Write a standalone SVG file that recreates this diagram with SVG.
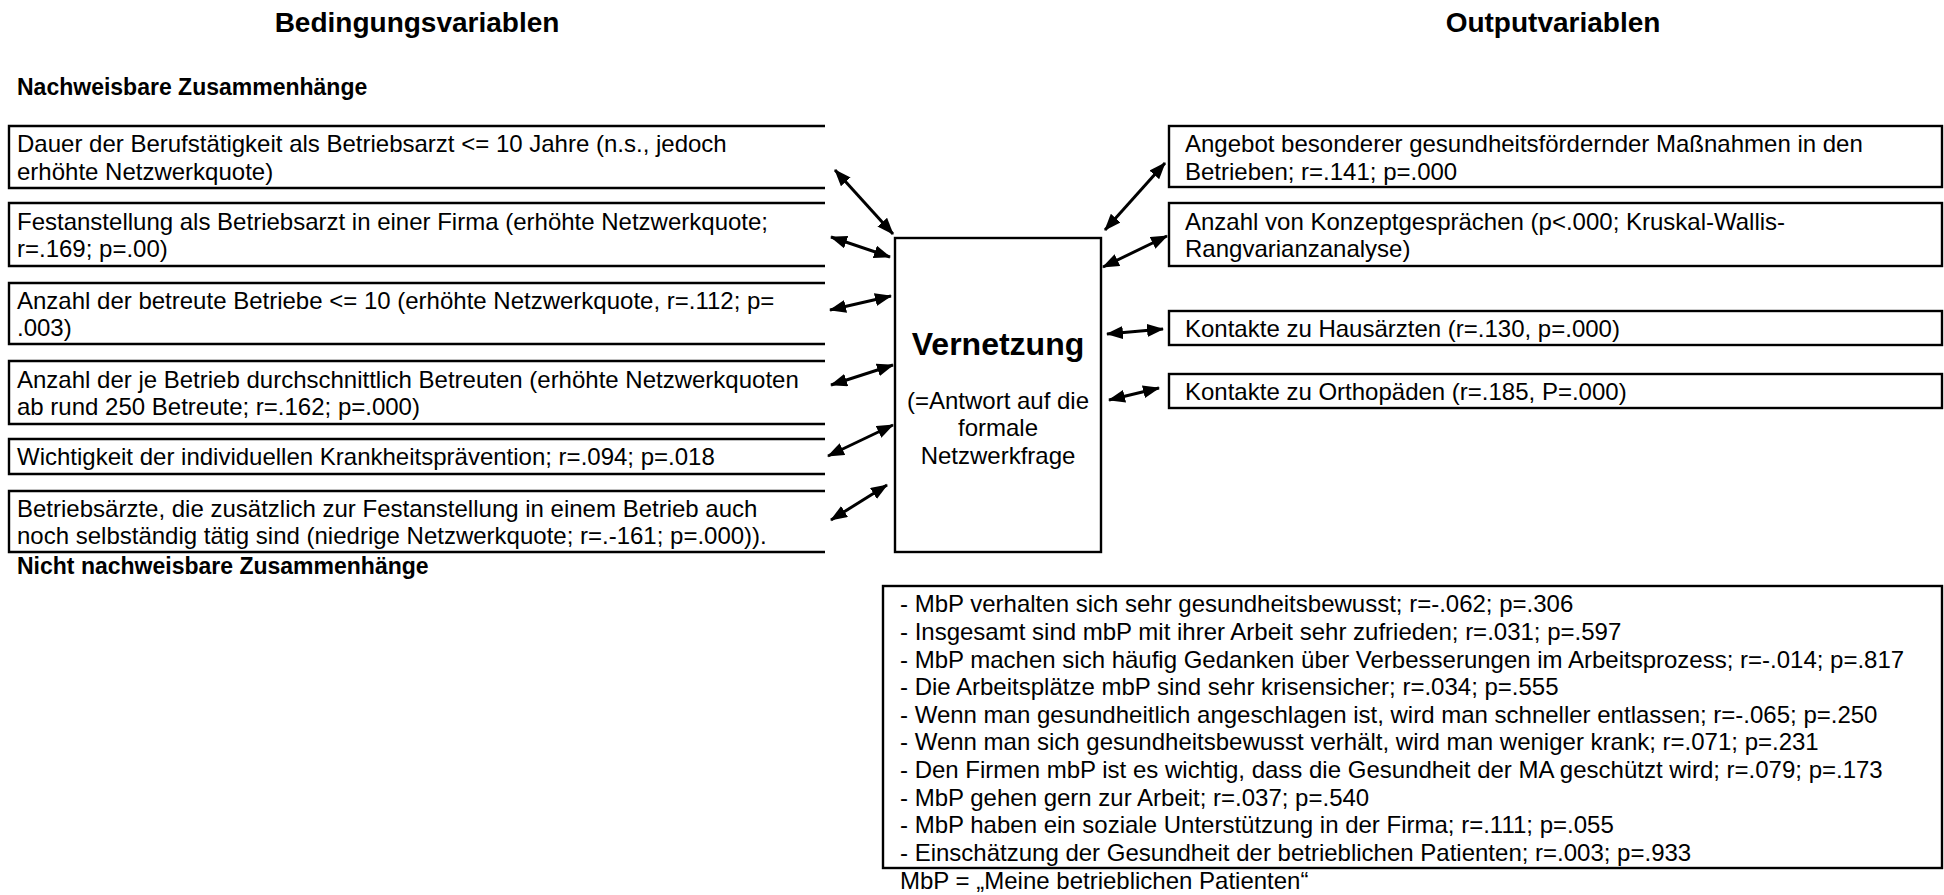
<svg xmlns="http://www.w3.org/2000/svg" width="1944" height="895" viewBox="0 0 1944 895">
  <style>
    text { font-family: "Liberation Sans", Arial, sans-serif; fill: #000; }
    .body { font-size: 24px; }
    .title { font-size: 28px; font-weight: bold; }
    .sub { font-size: 23px; font-weight: bold; }
    .main { font-size: 32px; font-weight: bold; }
    .box { fill: #fff; stroke: #000; stroke-width: 2.4; }
    .open { fill: none; stroke: #000; stroke-width: 2.4; }
    .conn line { stroke: #000; stroke-width: 3; marker-start: url(#head); marker-end: url(#head); }
  </style>
  <defs>
    <marker id="head" viewBox="0 0 17 13" refX="16" refY="6.5" markerWidth="17" markerHeight="13" markerUnits="userSpaceOnUse" orient="auto-start-reverse">
      <path d="M0,0 L17,6.5 L0,13 z" fill="#000"/>
    </marker>
  </defs>
  <rect width="1944" height="895" fill="#fff"/>

  <!-- headings -->
  <text class="title" x="417" y="32" text-anchor="middle">Bedingungsvariablen</text>
  <text class="title" x="1553" y="32" text-anchor="middle">Outputvariablen</text>
  <text class="sub" x="17" y="95">Nachweisbare Zusammenhänge</text>
  <text class="sub" x="17" y="574">Nicht nachweisbare Zusammenhänge</text>

  <!-- condition variables (boxes open on the right) -->
  <g id="cond1">
    <path class="open" d="M825,126 H9 V188 H825"/>
    <text class="body" x="17" y="152">Dauer der Berufstätigkeit als Betriebsarzt &lt;= 10 Jahre (n.s., jedoch</text>
    <text class="body" x="17" y="179.6">erhöhte Netzwerkquote)</text>
  </g>
  <g id="cond2">
    <path class="open" d="M825,203 H9 V266 H825"/>
    <text class="body" x="17" y="229.5">Festanstellung als Betriebsarzt in einer Firma (erhöhte Netzwerkquote;</text>
    <text class="body" x="17" y="257">r=.169; p=.00)</text>
  </g>
  <g id="cond3">
    <path class="open" d="M825,283 H9 V344 H825"/>
    <text class="body" x="17" y="308.5">Anzahl der betreute Betriebe &lt;= 10 (erhöhte Netzwerkquote, r=.112; p=</text>
    <text class="body" x="17" y="336">.003)</text>
  </g>
  <g id="cond4">
    <path class="open" d="M825,361 H9 V424 H825"/>
    <text class="body" x="17" y="387.5">Anzahl der je Betrieb durchschnittlich Betreuten (erhöhte Netzwerkquoten</text>
    <text class="body" x="17" y="415">ab rund 250 Betreute; r=.162; p=.000)</text>
  </g>
  <g id="cond5">
    <path class="open" d="M825,439 H9 V474 H825"/>
    <text class="body" x="17" y="465">Wichtigkeit der individuellen Krankheitsprävention; r=.094; p=.018</text>
  </g>
  <g id="cond6">
    <path class="open" d="M825,491 H9 V552 H825"/>
    <text class="body" x="17" y="516.5">Betriebsärzte, die zusätzlich zur Festanstellung in einem Betrieb auch</text>
    <text class="body" x="17" y="544">noch selbständig tätig sind (niedrige Netzwerkquote; r=.-161; p=.000)).</text>
  </g>

  <!-- central node -->
  <g id="vernetzung">
    <rect class="box" x="895" y="238" width="206" height="314"/>
    <text class="main" x="998" y="354.5" text-anchor="middle">Vernetzung</text>
    <text class="body" x="998" y="408.6" text-anchor="middle">(=Antwort auf die</text>
    <text class="body" x="998" y="436.2" text-anchor="middle">formale</text>
    <text class="body" x="998" y="463.8" text-anchor="middle">Netzwerkfrage</text>
  </g>

  <!-- output variables -->
  <g id="out1">
    <rect class="box" x="1169" y="126" width="773" height="61"/>
    <text class="body" x="1185" y="152">Angebot besonderer gesundheitsfördernder Maßnahmen in den</text>
    <text class="body" x="1185" y="179.6">Betrieben; r=.141; p=.000</text>
  </g>
  <g id="out2">
    <rect class="box" x="1169" y="203" width="773" height="63"/>
    <text class="body" x="1185" y="229.5">Anzahl von Konzeptgesprächen (p&lt;.000; Kruskal-Wallis-</text>
    <text class="body" x="1185" y="257">Rangvarianzanalyse)</text>
  </g>
  <g id="out3">
    <rect class="box" x="1169" y="311" width="773" height="34"/>
    <text class="body" x="1185" y="336.6">Kontakte zu Hausärzten (r=.130, p=.000)</text>
  </g>
  <g id="out4">
    <rect class="box" x="1169" y="374" width="773" height="34"/>
    <text class="body" x="1185" y="399.6">Kontakte zu Orthopäden (r=.185, P=.000)</text>
  </g>

  <!-- variables without a measurable link -->
  <g id="nonsig">
    <rect class="box" x="883" y="586" width="1059" height="282"/>
    <text class="body" x="900" y="612.4">- MbP verhalten sich sehr gesundheitsbewusst; r=-.062; p=.306</text>
    <text class="body" x="900" y="640">- Insgesamt sind mbP mit ihrer Arbeit sehr zufrieden; r=.031; p=.597</text>
    <text class="body" x="900" y="667.6">- MbP machen sich häufig Gedanken über Verbesserungen im Arbeitsprozess; r=-.014; p=.817</text>
    <text class="body" x="900" y="695.2">- Die Arbeitsplätze mbP sind sehr krisensicher; r=.034; p=.555</text>
    <text class="body" x="900" y="722.8">- Wenn man gesundheitlich angeschlagen ist, wird man schneller entlassen; r=-.065; p=.250</text>
    <text class="body" x="900" y="750.4">- Wenn man sich gesundheitsbewusst verhält, wird man weniger krank; r=.071; p=.231</text>
    <text class="body" x="900" y="778">- Den Firmen mbP ist es wichtig, dass die Gesundheit der MA geschützt wird; r=.079; p=.173</text>
    <text class="body" x="900" y="805.6">- MbP gehen gern zur Arbeit; r=.037; p=.540</text>
    <text class="body" x="900" y="833.2">- MbP haben ein soziale Unterstützung in der Firma; r=.111; p=.055</text>
    <text class="body" x="900" y="860.8">- Einschätzung der Gesundheit der betrieblichen Patienten; r=.003; p=.933</text>
  </g>
  <g id="legend">
    <text class="body" x="900" y="889">MbP = „Meine betrieblichen Patienten“</text>
  </g>

  <!-- double-headed connectors -->
  <g id="connectors" class="conn">
    <line x1="835" y1="170" x2="893" y2="234"/>
    <line x1="831" y1="237" x2="890" y2="257"/>
    <line x1="830" y1="310" x2="891" y2="296"/>
    <line x1="831" y1="385" x2="893" y2="365"/>
    <line x1="828" y1="456" x2="893" y2="425"/>
    <line x1="831" y1="520" x2="887" y2="485"/>
    <line x1="1105" y1="230" x2="1165" y2="163"/>
    <line x1="1103" y1="267" x2="1167" y2="236"/>
    <line x1="1107" y1="334" x2="1163" y2="329"/>
    <line x1="1109" y1="400" x2="1159" y2="388"/>
  </g>
</svg>
